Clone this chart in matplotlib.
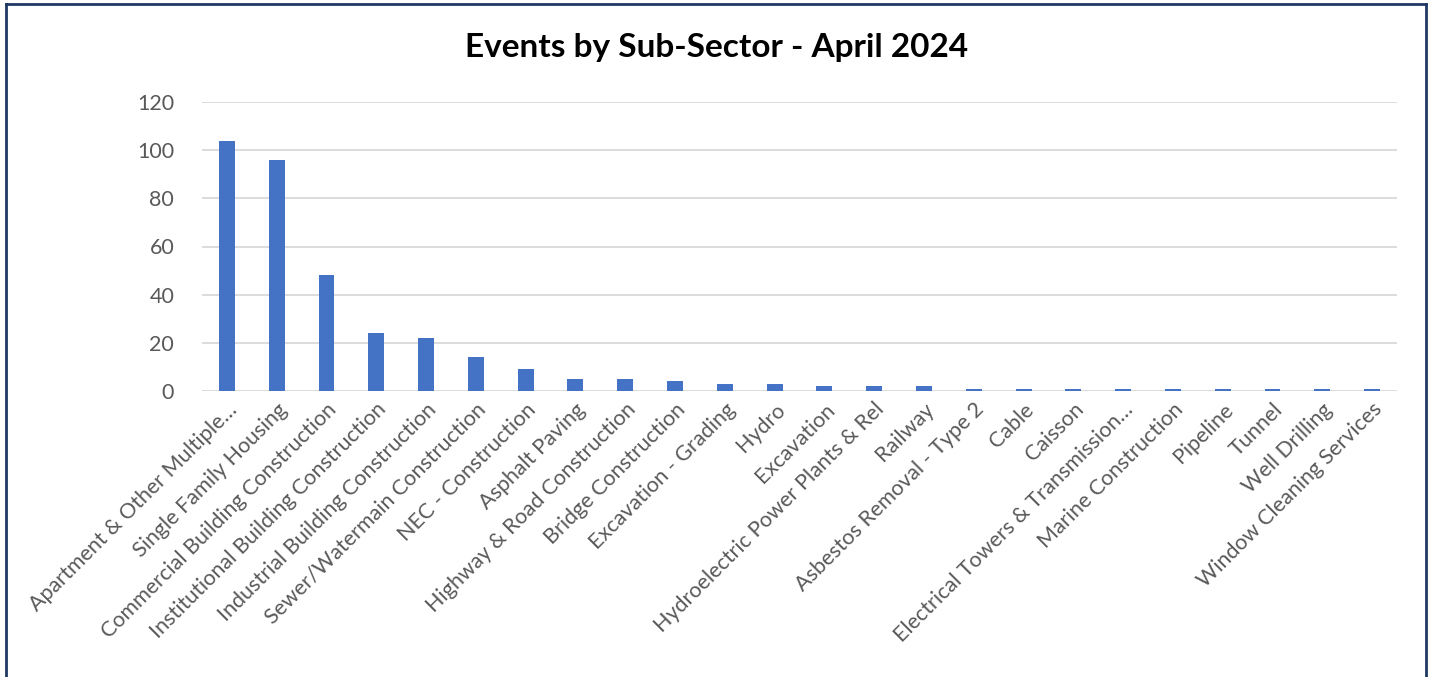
import matplotlib
matplotlib.use("Agg")
import matplotlib.pyplot as plt
from matplotlib.lines import Line2D

categories = [
    "Apartment & Other Multiple…", "Single Family Housing", "Commercial Building Construction",
    "Institutional Building Construction", "Industrial Building Construction",
    "Sewer/Watermain Construction", "NEC - Construction", "Asphalt Paving",
    "Highway & Road Construction", "Bridge Construction", "Excavation - Grading", "Hydro",
    "Excavation", "Hydroelectric Power Plants & Rel", "Railway", "Asbestos Removal - Type 2",
    "Cable", "Caisson", "Electrical Towers & Transmission…", "Marine Construction",
    "Pipeline", "Tunnel", "Well Drilling", "Window Cleaning Services",
]
events = [104, 96, 48, 24, 22, 14, 9, 5, 5, 4, 3, 3, 2, 2, 2, 1, 1, 1, 1, 1, 1, 1, 1, 1]
yticks = [0, 20, 40, 60, 80, 100, 120]

plt.rcParams['font.family'] = ['Lato', 'DejaVu Sans']

W, H = 1433, 677
fig = plt.figure(figsize=(W / 100, H / 100), dpi=100)
ax = fig.add_axes([202 / W, 1 - 391 / H, (1397 - 202) / W, (391 - 102) / H])

x = list(range(len(categories)))
ax.bar(x, events, width=0.32, color="#4472C4", zorder=3)
ax.set_xlim(-0.5, len(categories) - 0.5)
ax.set_ylim(0, 120)
ax.set_yticks(yticks)
ax.set_yticklabels([str(v) for v in yticks], fontsize=15.5, color="#595959")
ax.set_xticks(x)
ax.set_xticklabels(categories, rotation=45, ha="right", rotation_mode="anchor",
                   fontsize=15.5, color="#595959")
ax.tick_params(axis="both", length=0)
ax.tick_params(axis="x", pad=6)
ax.tick_params(axis="y", pad=20)
ax.grid(axis="y", color="#D9D9D9", linewidth=1.3, zorder=0)
for s in ax.spines.values():
    s.set_visible(False)

fig.text(0.5, 1 - 47 / H, "Events by Sub-Sector - April 2024", ha="center", va="center",
         fontsize=24, fontweight="bold", color="black")

# outer frame (bottom edge lies outside the image)
c = "#1F3864"
fig.add_artist(Line2D([6 / W, 6 / W], [0, 1 - 4 / H], color=c, lw=2, transform=fig.transFigure))
fig.add_artist(Line2D([6 / W, 1426 / W], [1 - 4 / H, 1 - 4 / H], color=c, lw=2, transform=fig.transFigure))
fig.add_artist(Line2D([1426 / W, 1426 / W], [0, 1 - 4 / H], color=c, lw=2, transform=fig.transFigure))

fig.savefig("out.png", dpi=100, facecolor="white")
